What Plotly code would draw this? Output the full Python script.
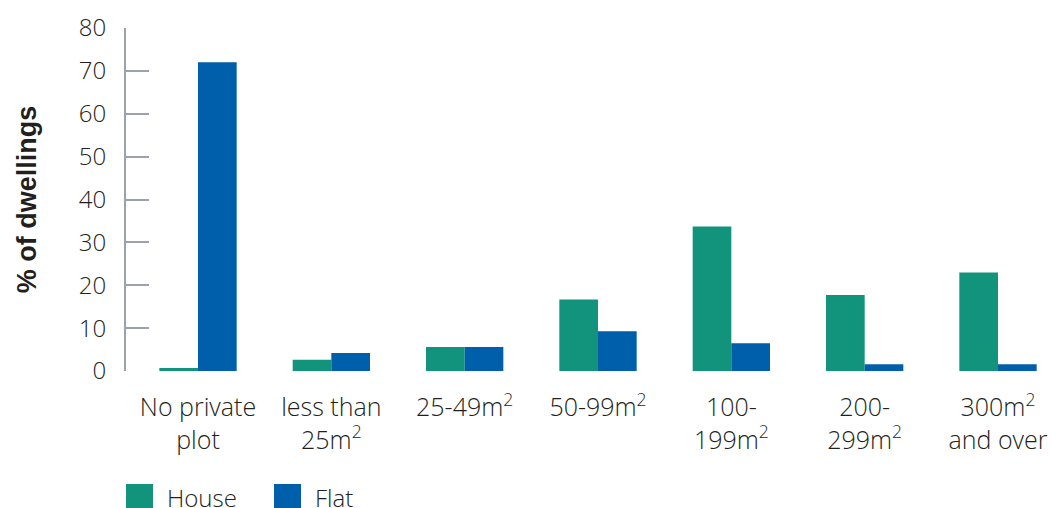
import plotly.graph_objects as go

categories = ["No private<br>plot", "less than<br>25m<sup>2</sup>", "25-49m<sup>2</sup>", "50-99m<sup>2</sup>",
              "100-<br>199m<sup>2</sup>", "200-<br>299m<sup>2</sup>", "300m<sup>2</sup><br>and over"]
house = [0.7, 2.6, 5.6, 16.7, 33.7, 17.7, 23.0]
flat = [72.0, 4.2, 5.6, 9.3, 6.5, 1.6, 1.6]
y_ticks = [0, 10, 20, 30, 40, 50, 60, 70, 80]

HOUSE_C = "#12937C"
FLAT_C = "#005FAB"
AXIS_C = "#9AA3AB"
TEXT_C = "#231F20"
FONT = "Open Sans, Liberation Sans, Arial, sans-serif"

x = list(range(len(categories)))
fig = go.Figure()
fig.add_trace(go.Bar(x=x, y=house, name="House", marker_color=HOUSE_C, marker_line_width=0))
fig.add_trace(go.Bar(x=x, y=flat, name="Flat", marker_color=FLAT_C, marker_line_width=0))

fig.update_layout(
    width=1052, height=508,
    margin=dict(l=126, r=0, t=28, b=137, autoexpand=False),
    paper_bgcolor="white", plot_bgcolor="white",
    barmode="group", bargap=0.42, bargroupgap=0,
    showlegend=False,
    font=dict(family=FONT, size=24, color=TEXT_C),
)
fig.update_xaxes(
    range=[-0.54, 6.405], tickmode="array", tickvals=x, ticktext=categories,
    showgrid=False, zeroline=False, showline=False, ticks="",
    tickfont=dict(family=FONT, size=25, color=TEXT_C, weight=300), ticklabelstandoff=19,
)
fig.update_yaxes(
    range=[0, 80], tickvals=y_ticks, showgrid=False, zeroline=False,
    showline=True, linecolor=AXIS_C, linewidth=2,
    ticks="inside", ticklen=23, tickwidth=2, tickcolor=AXIS_C,
    tickfont=dict(family=FONT, size=24, color=TEXT_C, weight=300), ticklabelstandoff=13,
    title=dict(text="<b>% of dwellings</b>", font=dict(family="Liberation Sans, Arial, sans-serif", size=27, color=TEXT_C), standoff=34),
    automargin=False,
)

# legend drawn as swatches + labels below the chart
legend_items = [("House", HOUSE_C, 126), ("Flat", FLAT_C, 274)]
for label, color, px in legend_items:
    fig.add_shape(type="rect", xref="paper", yref="paper",
                  x0=(px - 126) / 926, x1=(px + 27 - 126) / 926,
                  y0=-(510 - 371) / 343, y1=-(484 - 371) / 343,
                  fillcolor=color, line_width=0)
    fig.add_annotation(xref="paper", yref="paper", x=(px + 39 - 126) / 926, y=-(497 - 371) / 343,
                       text=label, showarrow=False, xanchor="left", yanchor="middle",
                       font=dict(family=FONT, size=24, color=TEXT_C, weight=300))

fig.write_html("out.html", config={"displayModeBar": False},
               post_script="document.body.style.margin='0';document.body.style.overflow='hidden';")
